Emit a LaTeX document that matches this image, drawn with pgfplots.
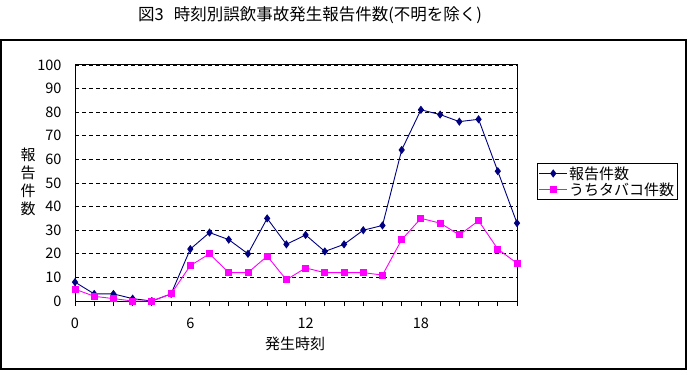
\documentclass[border=0pt]{standalone}
\usepackage{fontspec}
\setmainfont{Noto Sans CJK JP}
\usepackage{pgfplots}
\pgfplotsset{compat=1.18}
\definecolor{navyc}{RGB}{0,0,128}
\definecolor{magc}{RGB}{255,0,255}
\pgfplotstableread{
h total tabaco
0 8 5
1 3 2
2 3 1
3 1 0
4 0 0
5 3 3
6 22 15
7 29 20
8 26 12
9 20 12
10 35 19
11 24 9
12 28 14
13 21 12
14 24 12
15 30 12
16 32 11
17 64 26
18 81 35
19 79 33
20 76 28
21 77 34
22 55 22
23 33 16
}\datatable
\begin{document}
\begin{tikzpicture}[font=\fontsize{14.5bp}{17bp}\selectfont]
\path[use as bounding box] (0bp,0bp) rectangle (688bp,370bp);
\begin{axis}[
  at={(75bp,69bp)}, anchor=south west,
  scale only axis, width=442bp, height=236bp,
  clip=false,
  xmin=0, xmax=23, ymin=0, ymax=100,
  xtick={0,...,23},
  xticklabels={0,,,,,,6,,,,,,12,,,,,,18,,,,,},
  ytick={0,10,...,100},
  xtick pos=bottom, ytick pos=left,
  tick align=outside,
  major tick length=5bp,
  xtick style={black, line width=0.8bp},
  ytick style={draw=none},
  axis line style={black, line width=1bp},
  ymajorgrids,
  grid style={black, line width=0.8bp, dash pattern=on 4bp off 3bp},
  /pgf/number format/assume math mode=true,
  tick label style={font=\fontsize{14.5bp}{17bp}\selectfont},
  yticklabel style={anchor=east, xshift=-5bp},
  xticklabel style={anchor=north, yshift=-8bp},
  title={図3\hspace{10bp}時刻別誤飲事故発生報告件数(不明を除く)},
  title style={at={(axis description cs:0.532,1.185)}, anchor=center, font=\fontsize{16.5bp}{18bp}\selectfont},
  xlabel={発生時刻},
  xlabel style={at={(axis description cs:0.498,-0.182)}, anchor=center, font=\fontsize{15bp}{17bp}\selectfont},
  ylabel={報\\告\\件\\数},
  ylabel style={rotate=-90, at={(axis description cs:-0.106,0.506)}, anchor=center, align=center, font=\fontsize{15bp}{18bp}\selectfont},
  legend style={at={(axis description cs:1.045,0.5847)}, anchor=north west, draw=black, line width=0.8bp, fill=white,
    font=\fontsize{15bp}{16bp}\selectfont, inner sep=1.5bp, row sep=-1bp, nodes={inner sep=1.5bp}},
  legend cell align=left,
  legend image code/.code={\draw[mark repeat=2,mark phase=2] plot coordinates {(0bp,0bp)(14bp,0bp)(28bp,0bp)};},
]
\addplot[navyc, line width=0.9bp, mark=diamond*, mark size=3.4bp, mark options={fill=navyc, draw=navyc}] table[x=h, y=total] {\datatable};
\addlegendentry{報告件数}
\addplot[magc, line width=0.9bp, mark=square*, mark size=3bp, mark options={fill=magc, draw=magc}] table[x=h, y=tabaco] {\datatable};
\addlegendentry{うちタバコ件数}
\end{axis}
\draw[black, line width=1.2bp] (1bp,1bp) rectangle (686bp,330bp);
\end{tikzpicture}
\end{document}
